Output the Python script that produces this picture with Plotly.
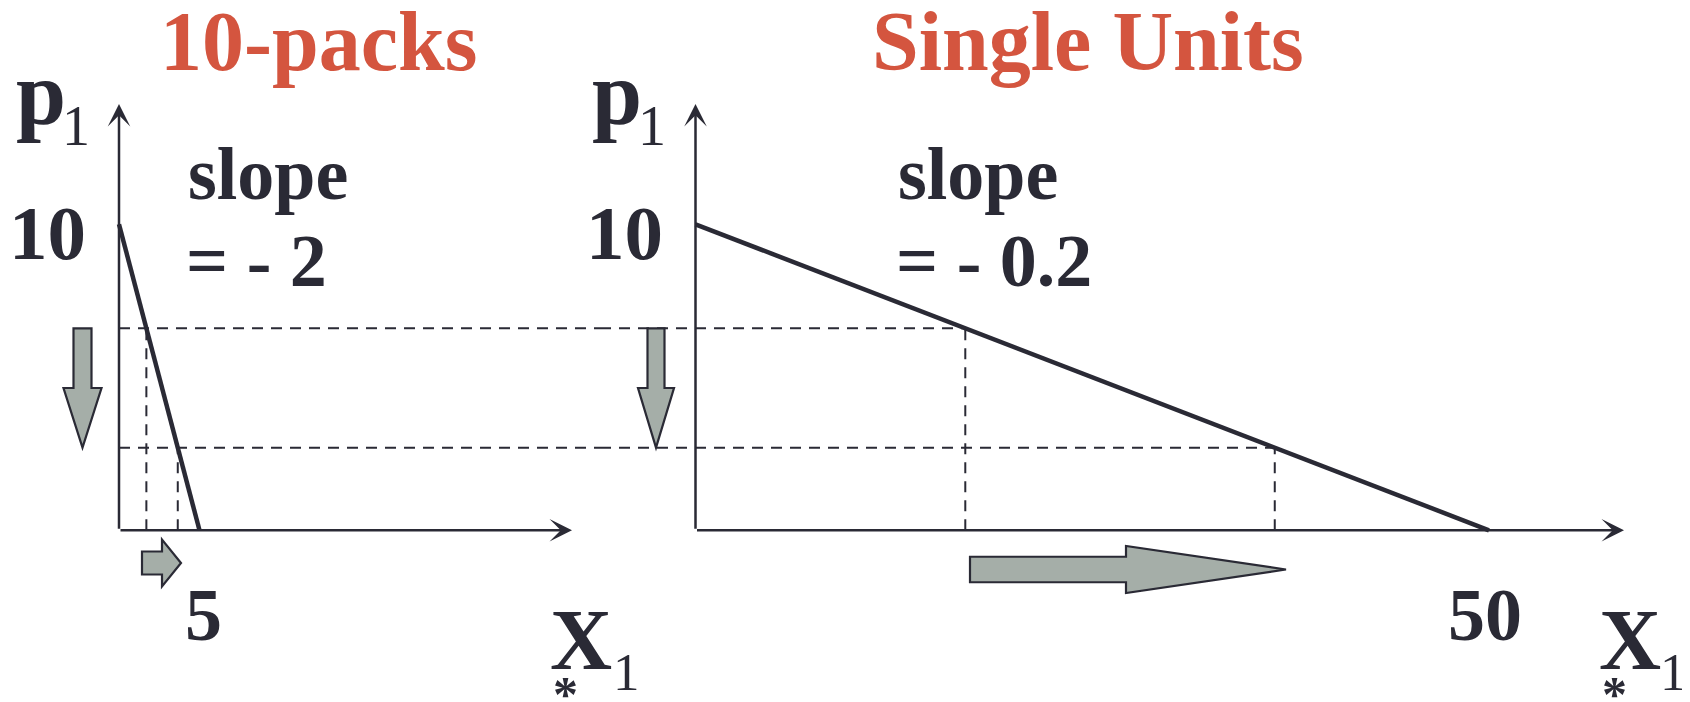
import plotly.graph_objects as go

# ---------------- data ----------------
panel_titles = ["10-packs", "Single Units"]
pack_qty = [0, 5]          # 10-packs demand: x-intercept 5
pack_price = [10, 0]
unit_qty = [0, 50]         # single units demand: x-intercept 50
unit_price = [10, 0]
price_levels = [6.6, 2.7]              # the two prices (dashed horizontals)
pack_qty_at_levels = [1.7, 3.65]       # 10-packs quantity at those prices
unit_qty_at_levels = [17, 36.5]        # single-unit quantity at those prices
slope_texts = ["= - 2", "= - 0.2"]
y_tick_text = "10"
x_tick_texts = ["5", "50"]
y_tick_value = 10

# ---------------- styling / layout constants ----------------
PAGE_W, PAGE_H = 1690, 702
OFF = 8                      # default body margin of the html page
W, H = PAGE_W - OFF, PAGE_H - OFF
DARK = "#2A2A35"
RED = "#D4553F"
GRAY = "#A5AEA8"
FONT = "Liberation Serif"

# mappings in page pixels
Y0, YU = 530.3 - OFF, 30.6          # p=0 row, px per unit
LX0, LXU = 119.0 - OFF, 16.1        # left panel
RX0, RXU = 695.5 - OFF, 15.87       # right panel
SPLIT = 600.0 - OFF

y_range = [(Y0 - H) / YU, Y0 / YU]
x_range = [-LX0 / LXU, (SPLIT - LX0) / LXU]
x2_range = [(SPLIT - RX0) / RXU, (W - RX0) / RXU]

def px(xp):           # page pixel -> paper
    return (xp - OFF) / W

def py(yp):
    return 1 - (yp - OFF) / H

def ly(yp):           # page pixel -> price units
    return (Y0 - (yp - OFF)) / YU

def lx(xp):           # page pixel -> left x units
    return ((xp - OFF) - LX0) / LXU

def rx(xp):           # page pixel -> right x units
    return ((xp - OFF) - RX0) / RXU

fig = go.Figure()

line_dark = dict(color=DARK, width=4.5)
dash_style = dict(color=DARK, width=2, dash="11px,8px")

# demand lines
fig.add_trace(go.Scatter(x=pack_qty, y=pack_price, mode="lines", line=line_dark,
                         xaxis="x", yaxis="y", showlegend=False, hoverinfo="skip"))
fig.add_trace(go.Scatter(x=unit_qty, y=unit_price, mode="lines", line=line_dark,
                         xaxis="x2", yaxis="y", showlegend=False, hoverinfo="skip"))

for i, p in enumerate(price_levels):
    fig.add_trace(go.Scatter(x=[0, x_range[1]], y=[p, p], mode="lines", line=dash_style,
                             xaxis="x", yaxis="y", showlegend=False, hoverinfo="skip"))
    fig.add_trace(go.Scatter(x=[x2_range[0], unit_qty_at_levels[i]], y=[p, p], mode="lines",
                             line=dash_style, xaxis="x2", yaxis="y", showlegend=False,
                             hoverinfo="skip"))
    fig.add_trace(go.Scatter(x=[pack_qty_at_levels[i]] * 2, y=[0, p], mode="lines",
                             line=dash_style, xaxis="x", yaxis="y", showlegend=False,
                             hoverinfo="skip"))
    fig.add_trace(go.Scatter(x=[unit_qty_at_levels[i]] * 2, y=[0, p], mode="lines",
                             line=dash_style, xaxis="x2", yaxis="y", showlegend=False,
                             hoverinfo="skip"))

annotations = []
shapes = []

# axes with arrowheads
y_top = ly(104)
for xr, x_tip in (("x", lx(572)), ("x2", rx(1624))):
    for (hx, hy) in ((0, y_top), (x_tip, 0)):
        annotations.append(dict(x=hx, y=hy, ax=0, ay=0, xref=xr, yref="y", axref=xr, ayref="y",
                                text="", showarrow=True, arrowhead=3, arrowsize=1.5,
                                arrowwidth=2.5, arrowcolor=DARK))

def down_arrow(cx, shaft_half, head_half, top, head_start, tip):
    return (f"M {cx - shaft_half},{top} L {cx + shaft_half},{top} L {cx + shaft_half},{head_start} "
            f"L {cx + head_half},{head_start} L {cx},{tip} L {cx - head_half},{head_start} "
            f"L {cx - shaft_half},{head_start} Z")

def right_arrow(cy, shaft_half, head_half, start, head_start, tip):
    return (f"M {start},{cy + shaft_half} L {head_start},{cy + shaft_half} L {head_start},{cy + head_half} "
            f"L {tip},{cy} L {head_start},{cy - head_half} L {head_start},{cy - shaft_half} "
            f"L {start},{cy - shaft_half} Z")

head_start_p = ly(388)
arrow_line = dict(color=DARK, width=2.2)
shapes.append(dict(type="path", xref="x", yref="y", layer="above",
                   path=down_arrow(lx(82.5), 9 / LXU, 19 / LXU,
                                   price_levels[0], head_start_p, price_levels[1]),
                   fillcolor=GRAY, line=arrow_line))
shapes.append(dict(type="path", xref="x2", yref="y", layer="above",
                   path=down_arrow(rx(656), 8.5 / RXU, 18 / RXU,
                                   price_levels[0], head_start_p, price_levels[1]),
                   fillcolor=GRAY, line=arrow_line))
shapes.append(dict(type="path", xref="x", yref="y", layer="above",
                   path=right_arrow(ly(563), 11.5 / YU, 23.5 / YU, lx(142), lx(162), lx(181)),
                   fillcolor=GRAY, line=arrow_line))
shapes.append(dict(type="path", xref="x2", yref="y", layer="above",
                   path=right_arrow(ly(569.5), 12.75 / YU, 23.5 / YU, rx(970), rx(1126), rx(1286)),
                   fillcolor=GRAY, line=arrow_line))

def txt(text, x, y, size, color=DARK, xanchor="center", yanchor="middle", xref="paper",
        yref="paper", **kw):
    d = dict(text=text, x=x, y=y, xref=xref, yref=yref, showarrow=False,
             xanchor=xanchor, yanchor=yanchor,
             font=dict(family=FONT, size=size, color=color))
    d.update(kw)
    annotations.append(d)

# titles
txt(f"<b>{panel_titles[0]}</b>", px(318), py(42), 84, RED)
txt(f"<b>{panel_titles[1]}</b>", px(1088), py(42), 84, RED)

# p1 labels (p bold, subscript 1 regular)
for xl, xs in ((14, 76), (590, 651.5)):
    txt("<b>p</b>", px(xl), py(93), 90, xanchor="left")
    txt("1", px(xs), py(126), 56)

# y tick labels "10"
txt(f"<b>{y_tick_text}</b>", px(47), y_tick_value, 77, yref="y", yshift=-9)
txt(f"<b>{y_tick_text}</b>", px(624), y_tick_value, 77, yref="y", yshift=-9)

# slope texts
txt("<b>slope</b>", px(186), py(174), 74, xanchor="left")
txt(f"<b>{slope_texts[0]}</b>", px(184), py(261), 74, xanchor="left")
txt("<b>slope</b>", px(896), py(174), 74, xanchor="left")
txt(f"<b>{slope_texts[1]}</b>", px(894), py(261), 74, xanchor="left")

# x tick labels
txt(f"<b>{x_tick_texts[0]}</b>", pack_qty[1], py(615), 74, xref="x", xshift=4)
txt(f"<b>{x_tick_texts[1]}</b>", unit_qty[1], py(615), 74, xref="x2", xshift=-4)

# X1* labels
for xc, xs, xstar in ((581, 626, 565), (1629.5, 1673.5, 1614)):
    txt("<b>X</b>", px(xc), py(640), 86)
    txt("1", px(xs), py(672), 53)
    txt("<b>*</b>", px(xstar), py(694), 50)

fig.update_layout(
    width=W, height=H,
    margin=dict(l=0, r=0, t=0, b=0),
    paper_bgcolor="white", plot_bgcolor="white",
    xaxis=dict(domain=[0, SPLIT / W], range=x_range, visible=False, fixedrange=True),
    xaxis2=dict(domain=[SPLIT / W, 1], range=x2_range, visible=False, fixedrange=True),
    yaxis=dict(domain=[0, 1], range=y_range, visible=False, fixedrange=True),
    annotations=annotations,
    shapes=shapes,
    showlegend=False,
)

fig.write_html("out.html")
